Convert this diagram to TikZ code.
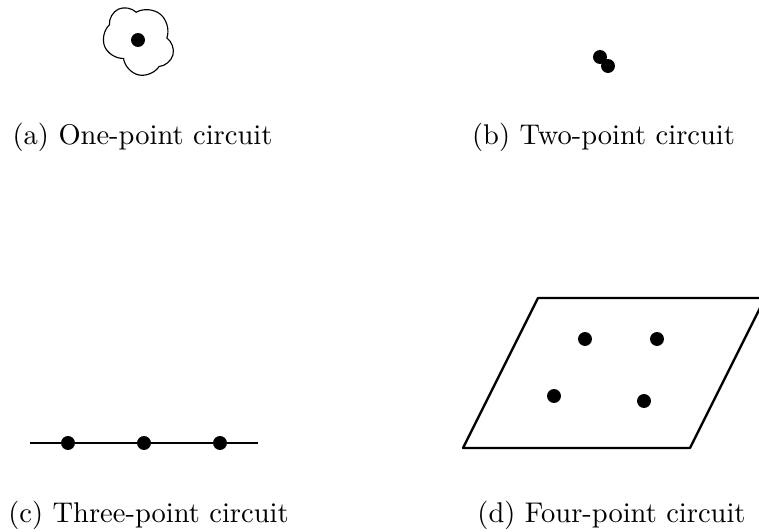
\documentclass[tikz,border=0pt]{standalone}
\usepackage{tikz}
\usetikzlibrary{shapes.symbols}
\tikzset{
  pt/.style={circle,fill=black,inner sep=0pt,minimum size=4.9pt},
  puff/.style={cloud,cloud puffs=5,cloud puff arc=140,aspect=1.1,draw,thin,
               minimum width=26.3pt,minimum height=23.5pt,inner sep=0pt},
  wire/.style={thick,black},
  sublab/.style={anchor=base,font=\normalsize},
}

\begin{document}
\begin{tikzpicture}[x=0.351pt,y=-0.351pt]
    \useasboundingbox (0,0) rectangle (759,532);
    % (a) one point
    \node[puff,rotate=-40] (cl) at (139,40) {};
    \node[pt] (a1) at (138,40) {};
    \node[sublab] (capa) at (142.5,145) {(a) One-point circuit};
    % (b) two points
    \node[pt] (b1) at (600,57) {};
    \node[pt] (b2) at (608,66) {};
    \node[sublab] (capb) at (603.5,145) {(b) Two-point circuit};
    % (c) three points on a line
    \coordinate (cl0) at (30,443);
    \coordinate (cr0) at (258,443);
    \node[pt] (c1) at (68,443) {};
    \node[pt] (c2) at (144,443) {};
    \node[pt] (c3) at (220,443) {};
    \draw[wire] (cl0) -- (c1.center) -- (c2.center) -- (c3.center) -- (cr0);
    \node[sublab] (capc) at (148.5,522) {(c) Three-point circuit};
    % (d) four points in a plane
    \coordinate (pbl) at (463,448);
    \coordinate (pbr) at (690,448);
    \coordinate (ptr) at (765,298);
    \coordinate (ptl) at (538,298);
    \draw[wire,line join=round] (pbl) -- (pbr) -- (ptr) -- (ptl) -- cycle;
    \node[pt] (d1) at (585,339) {};
    \node[pt] (d2) at (657,339) {};
    \node[pt] (d3) at (554,396) {};
    \node[pt] (d4) at (644,401) {};
    \node[sublab] (capd) at (611.5,522) {(d) Four-point circuit};
\end{tikzpicture}
\end{document}
